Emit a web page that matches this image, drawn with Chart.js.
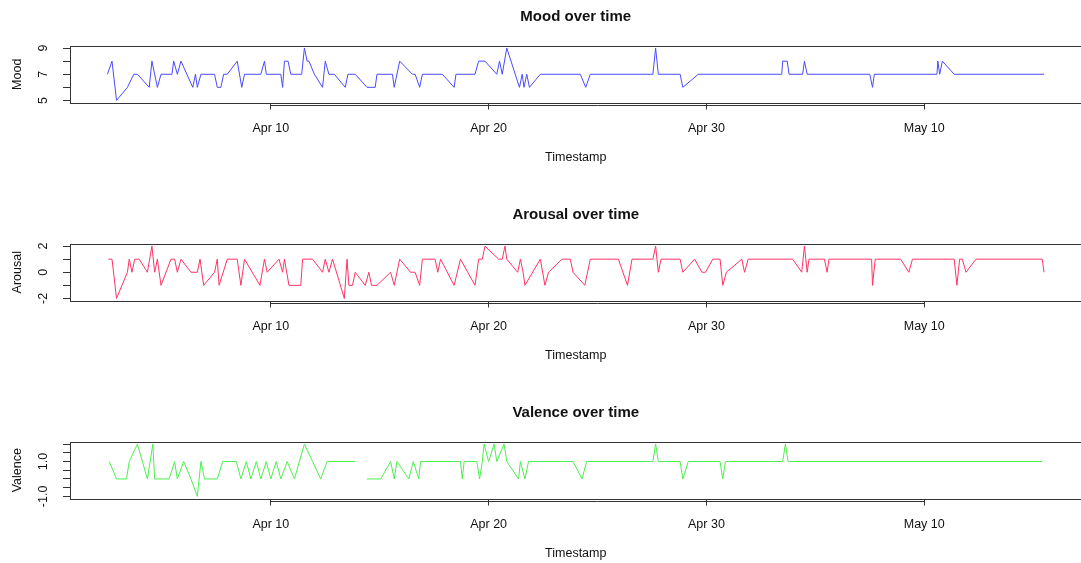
<!DOCTYPE html>
<html>
<head>
<meta charset="utf-8">
<script src="https://cdn.jsdelivr.net/npm/chart.js"></script>
<style>
  html, body { margin: 0; padding: 0; background: #fff; overflow: hidden; }
  body { width: 1081px; height: 563px; position: relative; }
  .panel { position: absolute; left: 0; }
</style>
</head>
<body>
<div class="panel" style="top:0px"><canvas id="mood" width="1090" height="190"></canvas></div>
<div class="panel" style="top:198px"><canvas id="arousal" width="1090" height="190"></canvas></div>
<div class="panel" style="top:396px"><canvas id="valence" width="1090" height="190"></canvas></div>
<script>
// 年は不明なので仮に2014年とする
const YEAR = 2014;
const FONT = "'Liberation Sans', Arial, Helvetica, sans-serif";

// x軸の目盛り
const tickDates = ["04-10 00:00", "04-20 00:00", "04-30 00:00", "05-10 00:00"];
const tickLabels = ["Apr 10", "Apr 20", "Apr 30", "May 10"];

// Mood
const moodTimes = [
  "04-02 12:00", "04-02 17:00", "04-02 22:00", "04-03 10:00", "04-03 17:00", "04-03 21:00",
  "04-04 10:00", "04-04 13:00", "04-04 19:00", "04-04 23:00", "04-05 11:00", "04-05 13:00",
  "04-05 17:00", "04-05 21:00", "04-06 10:00", "04-06 13:00", "04-06 15:00", "04-06 19:00",
  "04-07 10:00", "04-07 13:00", "04-07 17:00", "04-07 20:00", "04-08 00:00", "04-08 11:00",
  "04-08 16:00", "04-08 19:00", "04-09 13:00", "04-09 17:00", "04-09 19:00", "04-10 11:00",
  "04-10 13:00", "04-10 15:00", "04-10 19:00", "04-10 22:00", "04-11 10:00", "04-11 13:00",
  "04-11 16:00", "04-11 18:00", "04-12 00:00", "04-12 09:00", "04-12 12:00", "04-12 16:00",
  "04-12 22:00", "04-13 10:00", "04-13 13:00", "04-13 21:00", "04-14 10:00", "04-14 19:00",
  "04-14 21:00", "04-15 14:00", "04-15 16:00", "04-15 22:00", "04-16 12:00", "04-16 15:00",
  "04-16 20:00", "04-16 23:00", "04-17 21:00", "04-18 10:00", "04-18 12:00", "04-19 09:00",
  "04-19 13:00", "04-19 20:00", "04-20 09:00", "04-20 12:00", "04-20 15:00", "04-20 20:00",
  "04-21 10:00", "04-21 13:00", "04-21 15:00", "04-21 18:00", "04-21 21:00", "04-22 09:00",
  "04-24 05:00", "04-24 11:00", "04-24 16:00", "04-27 13:00", "04-27 16:00", "04-27 19:00",
  "04-28 19:00", "04-28 22:00", "04-29 15:00", "05-03 11:00", "05-03 12:00", "05-03 17:00",
  "05-03 19:00", "05-04 10:00", "05-04 12:00", "05-04 15:00", "05-07 12:00", "05-07 15:00",
  "05-07 17:00", "05-10 14:00", "05-10 15:00", "05-10 17:00", "05-10 20:00", "05-11 09:00",
  "05-15 12:00"
];
const moodValues = [
  7, 8, 5, 6, 7, 7,
  6, 8, 6, 7, 7, 8,
  7, 8, 6, 7, 6, 7,
  7, 6, 6, 7, 7, 8,
  6, 7, 7, 8, 7, 7,
  6, 8, 8, 7, 7, 9,
  8, 8, 7, 6, 8, 7,
  7, 6, 7, 7, 6, 6,
  7, 7, 6, 8, 7, 7,
  6, 7, 7, 6, 7, 7,
  8, 8, 7, 8, 7, 9,
  6, 7, 6, 7, 6, 7,
  7, 6, 7, 7, 9, 7,
  7, 6, 7, 7, 8, 8,
  7, 7, 8, 7, 7, 6,
  7, 7, 8, 7, 8, 7,
  7
];

// Arousal
const arousalTimes = [
  "04-02 13:00", "04-02 17:00", "04-02 22:00", "04-03 10:00", "04-03 12:00", "04-03 15:00",
  "04-03 18:00", "04-03 23:00", "04-04 08:00", "04-04 13:00", "04-04 16:00", "04-04 19:00",
  "04-04 23:00", "04-05 10:00", "04-05 14:00", "04-05 17:00", "04-05 21:00", "04-06 08:00",
  "04-06 15:00", "04-06 18:00", "04-06 22:00", "04-07 10:00", "04-07 13:00", "04-07 15:00",
  "04-08 00:00", "04-08 11:00", "04-08 15:00", "04-08 19:00", "04-09 12:00", "04-09 17:00",
  "04-09 20:00", "04-10 09:00", "04-10 13:00", "04-10 15:00", "04-10 20:00", "04-11 09:00",
  "04-11 11:00", "04-11 22:00", "04-12 09:00", "04-12 12:00", "04-12 16:00", "04-12 20:00",
  "04-13 09:00", "04-13 12:00", "04-13 14:00", "04-13 18:00", "04-13 21:00", "04-14 08:00",
  "04-14 12:00", "04-14 15:00", "04-14 21:00", "04-15 12:00", "04-15 16:00", "04-15 22:00",
  "04-16 10:00", "04-16 15:00", "04-16 20:00", "04-16 23:00", "04-17 13:00", "04-17 16:00",
  "04-17 19:00", "04-18 10:00", "04-18 17:00", "04-19 09:00", "04-19 13:00", "04-19 17:00",
  "04-19 20:00", "04-20 11:00", "04-20 15:00", "04-20 18:00", "04-20 20:00", "04-21 08:00",
  "04-21 11:00", "04-21 14:00", "04-21 16:00", "04-22 09:00", "04-22 14:00", "04-22 18:00",
  "04-23 09:00", "04-23 18:00", "04-23 21:00", "04-24 10:00", "04-24 16:00", "04-25 23:00",
  "04-26 09:00", "04-26 14:00", "04-27 13:00", "04-27 16:00", "04-27 19:00", "04-27 22:00",
  "04-28 19:00", "04-28 22:00", "04-29 11:00", "04-29 19:00", "04-29 23:00", "04-30 07:00",
  "04-30 15:00", "04-30 18:00", "04-30 22:00", "05-01 15:00", "05-01 18:00", "05-01 22:00",
  "05-03 23:00", "05-04 09:00", "05-04 12:00", "05-04 15:00", "05-04 17:00", "05-05 10:00",
  "05-05 13:00", "05-05 15:00", "05-07 14:00", "05-07 15:00", "05-07 18:00", "05-08 22:00",
  "05-09 07:00", "05-09 11:00", "05-11 09:00", "05-11 12:00", "05-11 15:00", "05-11 18:00",
  "05-11 22:00", "05-12 09:00", "05-15 10:00", "05-15 12:00"
];
const arousalValues = [
  1, 1, -2, 0, 1, 0,
  1, 1, 0, 2, 0, 1,
  -1, 1, 1, 0, 1, 0,
  0, 1, -1, 0, 1, -1,
  1, 1, -1, 1, -1, 1,
  0, 1, 0, 1, -1, -1,
  1, 1, 0, 1, 0, 1,
  -2, 1, -1, -1, 0, -1,
  0, -1, -1, 0, -1, 1,
  0, 0, -1, 1, 1, 0,
  1, -1, 1, -1, 1, 1,
  2, 1, 1, 2, 1, 0,
  1, 0, -1, 1, -1, 0,
  1, 1, 0, -1, 1, 1,
  -1, 1, 1, 2, 0, 1,
  1, 0, 1, 0, 0, 1,
  1, -1, 0, 1, 0, 1,
  1, 0, 2, 0, 1, 1,
  0, 1, 1, -1, 1, 1,
  0, 1, 1, -1, 1, 1,
  0, 1, 1, 0
];

// Valence（null は欠測）
const valenceTimes = [
  "04-02 14:00", "04-02 22:00", "04-03 09:00", "04-03 12:00", "04-03 21:00", "04-04 08:00",
  "04-04 14:00", "04-04 16:00", "04-05 08:00", "04-05 14:00", "04-05 17:00", "04-06 00:00",
  "04-06 08:00", "04-06 15:00", "04-06 19:00", "04-06 23:00", "04-07 13:00", "04-07 19:00",
  "04-08 10:00", "04-08 15:00", "04-08 21:00", "04-09 02:00", "04-09 08:00", "04-09 13:00",
  "04-09 19:00", "04-10 00:00", "04-10 06:00", "04-10 11:00", "04-10 18:00", "04-11 02:00",
  "04-11 13:00", "04-11 22:00", "04-12 07:00", "04-12 14:00", "04-13 21:00", "04-14 04:00",
  "04-14 10:00", "04-15 01:00", "04-15 12:00", "04-15 16:00", "04-15 19:00", "04-16 08:00",
  "04-16 13:00", "04-16 19:00", "04-16 21:00", "04-18 17:00", "04-18 19:00", "04-18 21:00",
  "04-19 11:00", "04-19 14:00", "04-19 17:00", "04-19 19:00", "04-20 00:00", "04-20 06:00",
  "04-20 09:00", "04-20 17:00", "04-20 20:00", "04-21 09:00", "04-21 11:00", "04-21 16:00",
  "04-21 20:00", "04-23 21:00", "04-24 07:00", "04-24 12:00", "04-27 13:00", "04-27 16:00",
  "04-27 19:00", "04-28 19:00", "04-28 22:00", "04-29 04:00", "04-30 15:00", "04-30 18:00",
  "04-30 21:00", "05-03 12:00", "05-03 15:00", "05-03 18:00", "05-15 10:00"
];
const valenceValues = [
  1, 0, 0, 1, 2, 0,
  2, 0, 0, 1, 0, 1,
  0, -1, 1, 0, 0, 1,
  1, 0, 1, 0, 1, 0,
  1, 0, 1, 0, 1, 0,
  2, 1, 0, 1, 1, null,
  0, 0, 1, 0, 1, 0,
  1, 0, 1, 1, 0, 1,
  1, 0, 1, 2, 1, 2,
  1, 2, 1, 0, 1, 0,
  1, 1, 0, 1, 1, 2,
  1, 1, 0, 1, 1, 0,
  1, 1, 2, 1, 1
];

// y軸の目盛り（ラベルは空文字なら表示しない）
const moodTicks = [5, 6, 7, 8, 9];
const moodTickLabels = ["5", "", "7", "", "9"];
const arousalTicks = [-2, -1, 0, 1, 2];
const arousalTickLabels = ["-2", "", "0", "", "2"];
const valenceTicks = [-1, -0.5, 0, 0.5, 1, 1.5, 2];
const valenceTickLabels = ["-1.0", "", "", "", "1.0", "", ""];

const toMs = (s) => Date.parse(`${YEAR}-${s.replace(" ", "T")}:00Z`);

// Rのplotと同じく範囲の4%を余白にする
const padRange = (vals) => {
  const lo = Math.min(...vals), hi = Math.max(...vals);
  const d = (hi - lo) * 0.04;
  return [lo - d, hi + d];
};
const allMs = [...moodTimes, ...arousalTimes, ...valenceTimes].map(toMs);
const [xMin, xMax] = padRange(allMs);
const tickMs = tickDates.map(toMs);

const textFont = { family: FONT, size: 12.5 };

const makePanel = (id, title, yLabel, times, values, color, yTicks, yTickLabels) => {
  const [yMin, yMax] = padRange(values.filter((v) => v !== null));

  // 枠・x軸線・回転したy目盛りラベルを描く
  const rAxes = {
    id: "rAxes",
    afterDraw(chart) {
      const { ctx, chartArea: a, scales: { x, y } } = chart;
      ctx.save();
      ctx.strokeStyle = "#333";
      ctx.lineWidth = 1;
      ctx.strokeRect(Math.round(a.left) + 0.5, Math.round(a.top) + 0.5,
        Math.round(a.right - a.left), Math.round(a.bottom - a.top));
      const first = x.getPixelForValue(tickMs[0]);
      const last = x.getPixelForValue(tickMs[tickMs.length - 1]);
      const yb = Math.round(a.bottom) + 2.5;
      ctx.beginPath();
      ctx.moveTo(first, yb);
      ctx.lineTo(last, yb);
      ctx.stroke();

      ctx.fillStyle = "#111";
      ctx.font = `${textFont.size}px ${FONT}`;
      ctx.textAlign = "center";
      ctx.textBaseline = "middle";
      y.ticks.forEach((t, i) => {
        const lab = yTickLabels[i];
        if (!lab) return;
        ctx.save();
        ctx.translate(43.5, y.getPixelForValue(t.value));
        ctx.rotate(-Math.PI / 2);
        ctx.fillText(lab, 0, 0);
        ctx.restore();
      });
      ctx.restore();
    },
  };

  return new Chart(document.getElementById(id), {
    type: "line",
    data: {
      datasets: [{
        data: times.map((t, i) => ({ x: toMs(t), y: values[i] })),
        borderColor: color,
        borderWidth: 1,
        pointRadius: 0,
        tension: 0,
        fill: false,
        clip: 4,
      }],
    },
    options: {
      responsive: false,
      animation: false,
      layout: { padding: { left: 0, right: 8.5, top: 0, bottom: 0 } },
      plugins: {
        legend: { display: false },
        tooltip: { enabled: false },
        title: {
          display: true,
          text: title,
          fullSize: false,
          color: "#111",
          font: { family: FONT, size: 15, weight: "bold" },
          padding: { top: 8, bottom: 20 },
        },
      },
      scales: {
        x: {
          type: "linear",
          min: xMin,
          max: xMax,
          afterBuildTicks: (s) => { s.ticks = tickMs.map((v) => ({ value: v })); },
          afterFit: (s) => { s.height = 87.5; },
          grid: { drawOnChartArea: false, drawTicks: true, tickLength: 7, color: "#333" },
          border: { display: false },
          ticks: {
            callback: (v, i) => tickLabels[i],
            color: "#111",
            font: textFont,
            padding: 11.5,
            maxRotation: 0,
            autoSkip: false,
          },
          title: { display: true, text: "Timestamp", color: "#111", font: textFont, padding: { top: 0, bottom: 24.5 } },
        },
        y: {
          min: yMin,
          max: yMax,
          afterBuildTicks: (s) => { s.ticks = yTicks.map((v) => ({ value: v })); },
          afterFit: (s) => { s.width = 70; },
          grid: { drawOnChartArea: false, drawTicks: true, tickLength: 7, color: "#333" },
          border: { display: false },
          ticks: { display: false },
          title: { display: true, text: yLabel, color: "#111", font: textFont, padding: { top: 10, bottom: 0 } },
        },
      },
    },
    plugins: [rAxes],
  });
};

makePanel("mood", "Mood over time", "Mood", moodTimes, moodValues, "#4a4aff", moodTicks, moodTickLabels);
makePanel("arousal", "Arousal over time", "Arousal", arousalTimes, arousalValues, "#ff3366", arousalTicks, arousalTickLabels);
makePanel("valence", "Valence over time", "Valence", valenceTimes, valenceValues, "#4cf04c", valenceTicks, valenceTickLabels);
</script>
</body>
</html>
